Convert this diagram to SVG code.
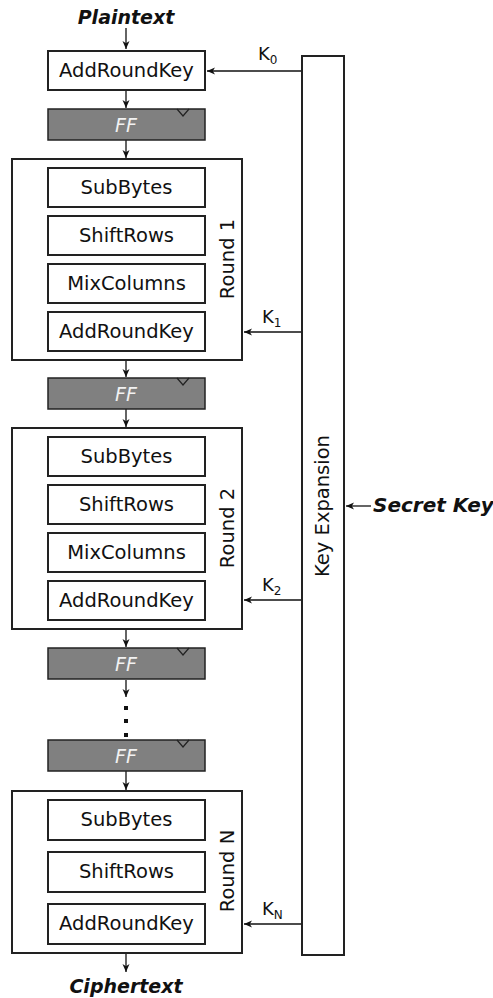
<svg xmlns="http://www.w3.org/2000/svg" width="493" height="998" viewBox="0 0 493 998">
<defs>
<style>
.box{fill:#fff;stroke:#222;stroke-width:2}
.ff{fill:#808080;stroke:#222;stroke-width:1.5}
.tri{fill:none;stroke:#222;stroke-width:1.2}
.t{font-family:"DejaVu Sans",Verdana,sans-serif;font-size:19.5px;fill:#111;text-anchor:middle}
.fft{font-family:"DejaVu Sans",Verdana,sans-serif;font-size:19px;font-style:italic;fill:#f2f2f2;text-anchor:middle}
.io{font-family:"DejaVu Sans",Verdana,sans-serif;font-size:19px;font-weight:bold;font-style:italic;fill:#111}
.k{font-family:"DejaVu Sans",Verdana,sans-serif;font-size:18px;fill:#111}
.ln{stroke:#111;stroke-width:1.3;fill:none}
</style>
<marker id="ah" markerWidth="10" markerHeight="8" refX="8" refY="4" orient="auto" markerUnits="userSpaceOnUse">
<path d="M0,0.5 L8,4 L0,7.5 L2.2,4 z" fill="#111"/>
</marker>
</defs>

<g id="connectors">
<line class="ln" x1="126" y1="28" x2="126" y2="49" marker-end="url(#ah)"/>
<line class="ln" x1="126" y1="90" x2="126" y2="108" marker-end="url(#ah)"/>
<line class="ln" x1="126" y1="140" x2="126" y2="158" marker-end="url(#ah)"/>
<line class="ln" x1="126" y1="360" x2="126" y2="377" marker-end="url(#ah)"/>
<line class="ln" x1="126" y1="409" x2="126" y2="427" marker-end="url(#ah)"/>
<line class="ln" x1="126" y1="629" x2="126" y2="647" marker-end="url(#ah)"/>
<line class="ln" x1="126" y1="680" x2="126" y2="697" marker-end="url(#ah)"/>
<line class="ln" x1="126" y1="771" x2="126" y2="790" marker-end="url(#ah)"/>
<line class="ln" x1="126" y1="954" x2="126" y2="972" marker-end="url(#ah)"/>
<line class="ln" x1="302" y1="71" x2="207" y2="71" marker-end="url(#ah)"/>
<line class="ln" x1="302" y1="332" x2="244" y2="332" marker-end="url(#ah)"/>
<line class="ln" x1="302" y1="600" x2="244" y2="600" marker-end="url(#ah)"/>
<line class="ln" x1="302" y1="924" x2="244" y2="924" marker-end="url(#ah)"/>
<line class="ln" x1="371" y1="506" x2="346" y2="506" marker-end="url(#ah)"/>
<rect x="124" y="706" width="4" height="4" fill="#111"/>
<rect x="124" y="719" width="4" height="4" fill="#111"/>
<rect x="124" y="733" width="4" height="4" fill="#111"/>
</g>

<g id="plaintext"><text class="io" x="126" y="24" text-anchor="middle">Plaintext</text></g>
<g id="ciphertext"><text class="io" x="126" y="993" text-anchor="middle">Ciphertext</text></g>

<g id="ark0"><rect class="box" x="48" y="51" width="157" height="39"/><text class="t" x="126.5" y="77">AddRoundKey</text></g>
<g id="ff1"><rect class="ff" x="48" y="109" width="157" height="31"/><polyline class="tri" points="177,109 183,116 189,109"/><text class="fft" x="126" y="132">FF</text></g>

<g id="round1">
<rect class="box" x="12" y="159" width="230" height="201"/>
<rect class="box" x="48" y="168" width="157" height="39"/><text class="t" x="126.5" y="194">SubBytes</text>
<rect class="box" x="48" y="216" width="157" height="39"/><text class="t" x="126.5" y="242">ShiftRows</text>
<rect class="box" x="48" y="264" width="157" height="39"/><text class="t" x="126.5" y="290">MixColumns</text>
<rect class="box" x="48" y="312" width="157" height="39"/><text class="t" x="126.5" y="338">AddRoundKey</text>
<text class="t" transform="translate(234,259) rotate(-90)">Round 1</text>
</g>
<g id="ff2"><rect class="ff" x="48" y="378" width="157" height="31"/><polyline class="tri" points="177,378 183,385 189,378"/><text class="fft" x="126" y="401">FF</text></g>

<g id="round2">
<rect class="box" x="12" y="428" width="230" height="201"/>
<rect class="box" x="48" y="437" width="157" height="39"/><text class="t" x="126.5" y="463">SubBytes</text>
<rect class="box" x="48" y="485" width="157" height="39"/><text class="t" x="126.5" y="511">ShiftRows</text>
<rect class="box" x="48" y="533" width="157" height="39"/><text class="t" x="126.5" y="559">MixColumns</text>
<rect class="box" x="48" y="581" width="157" height="39"/><text class="t" x="126.5" y="607">AddRoundKey</text>
<text class="t" transform="translate(234,528) rotate(-90)">Round 2</text>
</g>
<g id="ff3"><rect class="ff" x="48" y="648" width="157" height="31"/><polyline class="tri" points="177,648 183,655 189,648"/><text class="fft" x="126" y="671">FF</text></g>
<g id="ff4"><rect class="ff" x="48" y="740" width="157" height="31"/><polyline class="tri" points="177,740 183,747 189,740"/><text class="fft" x="126" y="763">FF</text></g>

<g id="roundN">
<rect class="box" x="12" y="791" width="230" height="162"/>
<rect class="box" x="48" y="800" width="157" height="40"/><text class="t" x="126.5" y="826">SubBytes</text>
<rect class="box" x="48" y="852" width="157" height="40"/><text class="t" x="126.5" y="878">ShiftRows</text>
<rect class="box" x="48" y="904" width="157" height="40"/><text class="t" x="126.5" y="930">AddRoundKey</text>
<text class="t" transform="translate(234,871) rotate(-90)">Round N</text>
</g>

<g id="keyexp">
<rect class="box" x="302" y="56" width="42" height="899"/>
<text class="t" transform="translate(329,506) rotate(-90)">Key Expansion</text>
</g>
<g id="secretkey"><text class="io" x="373" y="512" style="font-size:20px">Secret Key</text></g>

<g id="klabels">
<text class="k" x="258" y="60">K<tspan font-size="12" dy="4">0</tspan></text>
<text class="k" x="262" y="323">K<tspan font-size="12" dy="4">1</tspan></text>
<text class="k" x="262" y="591">K<tspan font-size="12" dy="4">2</tspan></text>
<text class="k" x="262" y="915">K<tspan font-size="12" dy="4">N</tspan></text>
</g>
</svg>
